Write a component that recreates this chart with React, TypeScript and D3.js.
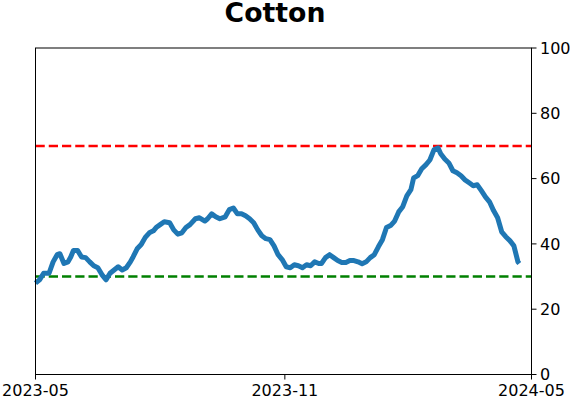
import React from "react";
import * as d3 from "d3";

const dates: string[] = [
  "2023-05-01","2023-05-04","2023-05-07","2023-05-11","2023-05-14","2023-05-17","2023-05-19","2023-05-22","2023-05-25","2023-05-27",
  "2023-05-29","2023-06-01","2023-06-04","2023-06-07","2023-06-10","2023-06-13","2023-06-16","2023-06-19","2023-06-22","2023-06-25",
  "2023-06-28","2023-07-01","2023-07-04","2023-07-07","2023-07-10","2023-07-12","2023-07-15","2023-07-18","2023-07-21","2023-07-24",
  "2023-07-27","2023-07-29","2023-08-01","2023-08-04","2023-08-08","2023-08-11","2023-08-14","2023-08-17","2023-08-20","2023-08-23",
  "2023-08-27","2023-08-30","2023-09-03","2023-09-05","2023-09-08","2023-09-11","2023-09-14","2023-09-18","2023-09-21","2023-09-24",
  "2023-09-27","2023-09-30","2023-10-03","2023-10-06","2023-10-09","2023-10-12","2023-10-15","2023-10-18","2023-10-21","2023-10-24",
  "2023-10-27","2023-10-30","2023-11-02","2023-11-05","2023-11-08","2023-11-11","2023-11-14","2023-11-17","2023-11-20","2023-11-23",
  "2023-11-26","2023-11-28","2023-12-01","2023-12-04","2023-12-07","2023-12-10","2023-12-13","2023-12-16","2023-12-19","2023-12-22",
  "2023-12-25","2023-12-28","2023-12-31","2024-01-03","2024-01-06","2024-01-09","2024-01-12","2024-01-15","2024-01-18","2024-01-21",
  "2024-01-24","2024-01-27","2024-01-30","2024-02-02","2024-02-04","2024-02-07","2024-02-10","2024-02-13","2024-02-16","2024-02-19",
  "2024-02-22","2024-02-24","2024-02-27","2024-03-01","2024-03-04","2024-03-07","2024-03-10","2024-03-13","2024-03-16","2024-03-19",
  "2024-03-22","2024-03-25","2024-03-28","2024-03-31","2024-04-03","2024-04-06","2024-04-09","2024-04-12","2024-04-15","2024-04-18",
  "2024-04-21","2024-04-22"
];

const values: number[] = [
  28, 29, 31, 31, 34.5, 36.7, 37, 34, 34.5, 36,
  38, 38, 36, 35.8, 34.5, 33.3, 32.7, 30.6, 29, 31,
  32, 33, 32, 32.7, 34.5, 36, 38.5, 39.8, 42, 43.4,
  44, 45, 45.9, 46.8, 46.5, 44.3, 43, 43.4, 45, 45.9,
  47.7, 48, 47, 47.7, 49.2, 48.3, 47.7, 48.3, 50.5, 51,
  49.2, 49.2, 48.6, 47.7, 46.5, 44.3, 42.5, 41.6, 41.3, 39.4,
  36.7, 35.2, 33, 32.7, 33.6, 33.3, 32.7, 33.6, 33.3, 34.5,
  34, 34, 35.8, 36.7, 35.8, 34.9, 34.3, 34.3, 34.9, 34.9,
  34.5, 33.9, 34.5, 35.8, 36.7, 39.1, 41.3, 45, 45.6, 47,
  49.8, 51.4, 54.7, 56.6, 60.2, 60.9, 63, 64.2, 65.7, 68.8,
  69.4, 67.6, 66, 64.8, 62.4, 61.8, 60.9, 59.6, 58.7, 57.8,
  58.1, 56.3, 54.4, 52.9, 50.2, 48, 43.7, 42.2, 41, 39.4,
  34.5, 34
];

const xTickLabels: string[] = ["2023-05", "2023-11", "2024-05"];
const yTicks: number[] = [0, 20, 40, 60, 80, 100];
const upperLevel = 70;
const lowerLevel = 30;
const title = "Cotton";

const W = 571;
const H = 402;
const M = { left: 35.5, right: 531.5, top: 48, bottom: 374.5 };

export default function App() {
  const parse = d3.utcParse("%Y-%m-%d");
  const parseTick = d3.utcParse("%Y-%m");
  const data = dates.map((d, i) => ({ date: parse(d) as Date, value: values[i] }));
  const x = d3
    .scaleUtc()
    .domain([parseTick(xTickLabels[0]) as Date, parseTick(xTickLabels[2]) as Date])
    .range([M.left, M.right]);
  const y = d3.scaleLinear().domain([0, 100]).range([M.bottom, M.top]);
  const line = d3
    .line<{ date: Date; value: number }>()
    .x((d) => x(d.date))
    .y((d) => y(d.value))
    .curve(d3.curveLinear);

  const font = "DejaVu Sans, sans-serif";
  return (
    <svg
      width={W}
      height={H}
      style={{ position: "absolute", left: 0, top: 0, background: "#fff" }}
      fontFamily={font}
    >
      <rect x={0} y={0} width={W} height={H} fill="#fff" />
      <text x={275} y={22} textAnchor="middle" fontSize={26.7} fontWeight="bold" fill="#000">
        {title}
      </text>
      <line x1={M.left} x2={M.right} y1={y(upperLevel)} y2={y(upperLevel)} stroke="#ff0000" strokeWidth={2.5} strokeDasharray="9.25,4" />
      <line x1={M.left} x2={M.right} y1={y(lowerLevel)} y2={y(lowerLevel)} stroke="#008000" strokeWidth={2.5} strokeDasharray="9.25,4" />
      <path d={line(data) || ""} fill="none" stroke="#1f77b4" strokeWidth={5} strokeLinejoin="round" strokeLinecap="butt" />
      <rect x={M.left} y={M.top} width={M.right - M.left} height={M.bottom - M.top} fill="none" stroke="#000" strokeWidth={1} />
      {yTicks.map((t) => (
        <g key={t}>
          <line x1={M.right} x2={M.right + 5} y1={y(t)} y2={y(t)} stroke="#000" strokeWidth={1} />
          <text x={M.right + 8.5} y={y(t)} dy="0.35em" fontSize={16} fill="#000">
            {t}
          </text>
        </g>
      ))}
      {xTickLabels.map((t) => {
        const px = x(parseTick(t) as Date);
        return (
          <g key={t}>
            <line x1={px} x2={px} y1={M.bottom} y2={M.bottom + 5} stroke="#000" strokeWidth={1} />
            <text x={px} y={M.bottom + 21.5} textAnchor="middle" fontSize={16} fill="#000">
              {t}
            </text>
          </g>
        );
      })}
    </svg>
  );
}
